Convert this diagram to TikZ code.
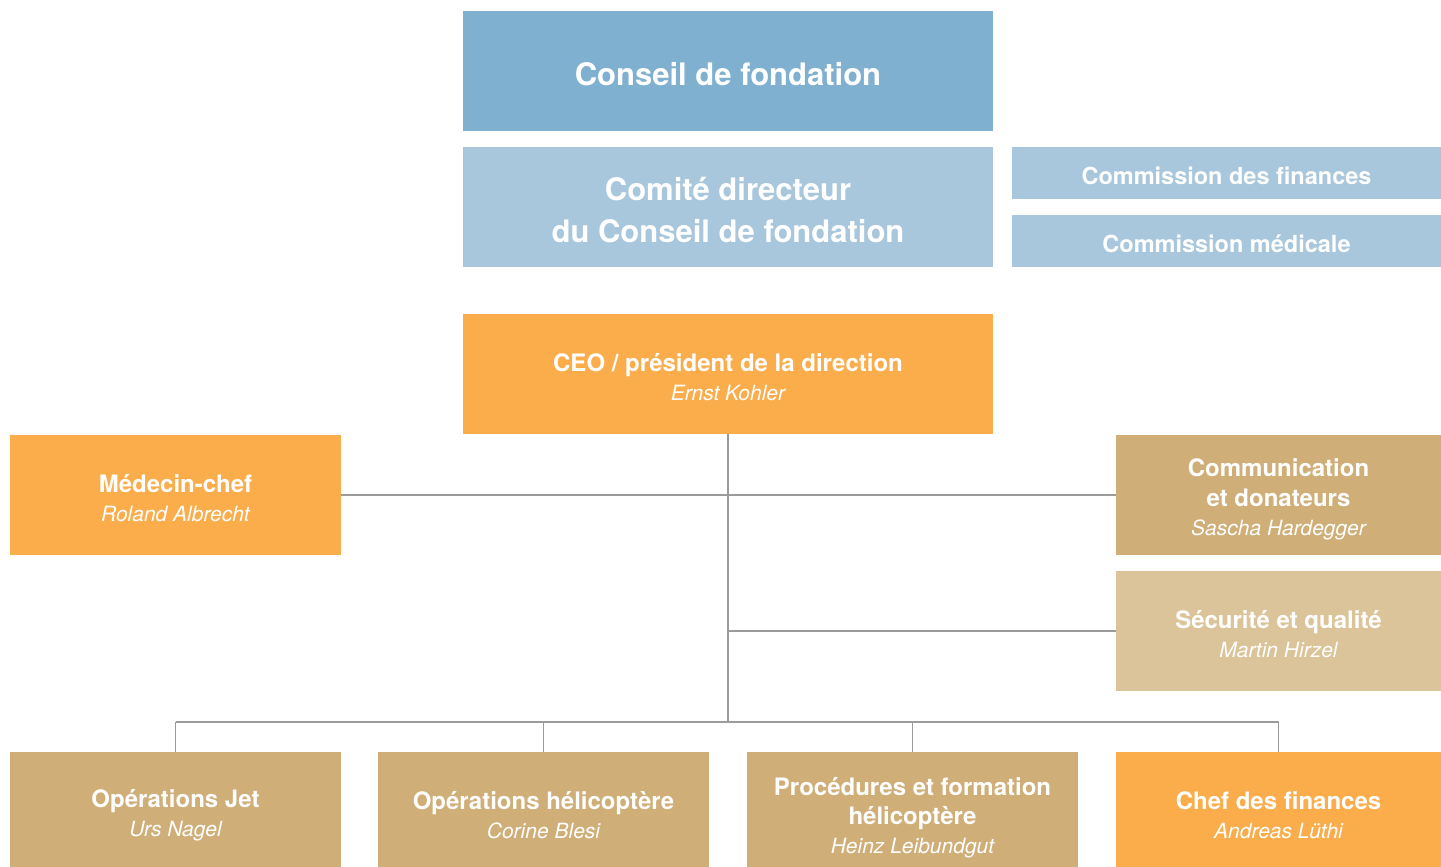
\documentclass[tikz,border=0pt]{standalone}
\usepackage{fontspec}
\setmainfont{TeX Gyre Heros}
\definecolor{bluedark}{HTML}{80B0CF}
\definecolor{bluelight}{HTML}{A8C6DC}
\definecolor{orangebox}{HTML}{FBAD4C}
\definecolor{tanbox}{HTML}{CFAE78}
\definecolor{tanlight}{HTML}{DBC499}
\definecolor{connline}{HTML}{9B9B9B}
\newcommand{\nm}[1]{{\fontsize{21}{28}\selectfont\mdseries\itshape #1}}
\tikzset{
  panel/.style={rectangle, inner sep=0pt, minimum width=#1},
  panel/.default=331pt,
  orgtext/.style={inner sep=0pt, text=white, align=center, yshift=-3pt,
    font=\fontsize{24}{29}\selectfont\bfseries},
  bigtext/.style={orgtext, font=\fontsize{31}{42}\selectfont\bfseries},
  comtext/.style={orgtext, yshift=0pt, font=\fontsize{23.5}{28}\selectfont\bfseries},
  conn/.style={draw=connline, line width=1.5pt}
}
\begin{document}
\begin{tikzpicture}[x=1pt,y=-1pt]
\useasboundingbox (0,0) rectangle (1441,867);
\clip (0,0) rectangle (1441,867);
% top
\node[panel=530pt, fill=bluedark, minimum height=120pt] (conseil) at (728,71) {};
\node[bigtext] (conseil-t) at (conseil.center) {Conseil de fondation};
\node[panel=530pt, fill=bluelight, minimum height=120pt] (comite) at (728,207) {};
\node[bigtext] (comite-t) at (comite.center) {Comité directeur\\du Conseil de fondation};
\node[panel=429pt, fill=bluelight, minimum height=52pt] (cfin) at (1226.5,173) {};
\node[comtext] (cfin-t) at (cfin.center) {Commission des finances};
\node[panel=429pt, fill=bluelight, minimum height=52pt] (cmed) at (1226.5,241) {};
\node[comtext] (cmed-t) at (cmed.center) {Commission médicale};
% ceo
\node[panel=530pt, fill=orangebox, minimum height=120pt] (ceo) at (728,374) {};
\node[orgtext] (ceo-t) at (ceo.center) {CEO / président de la direction\\\nm{Ernst Kohler}};
% middle
\node[panel, fill=orangebox, minimum height=120pt] (med) at (175.5,495) {};
\node[orgtext] (med-t) at (med.center) {Médecin-chef\\\nm{Roland Albrecht}};
\node[panel=325pt, fill=tanbox, minimum height=120pt] (comm) at (1278.5,495) {};
\node[orgtext, yshift=-1pt] (comm-t) at (comm.center) {Communication\\[1pt]et donateurs\\\nm{Sascha Hardegger}};
\node[panel=325pt, fill=tanlight, minimum height=120pt] (sec) at (1278.5,631) {};
\node[orgtext] (sec-t) at (sec.center) {Sécurité et qualité\\\nm{Martin Hirzel}};
% bottom
\node[panel, fill=tanbox, minimum height=120pt] (jet) at (175.5,812) {};
\node[orgtext] (jet-t) at (jet.center) {Opérations Jet\\\nm{Urs Nagel}};
\node[panel, fill=tanbox, minimum height=120pt] (heli) at (543.5,812) {};
\node[orgtext] (heli-t) at (heli.center) {Opérations hélicoptère\\\nm{Corine Blesi}};
\node[panel, fill=tanbox, minimum height=120pt] (proc) at (912.5,812) {};
\node[orgtext, yshift=-3pt] (proc-t) at (proc.center) {Procédures et formation\\hélicoptère\\\nm{Heinz Leibundgut}};
\node[panel=325pt, fill=orangebox, minimum height=120pt] (fin) at (1278.5,812) {};
\node[orgtext] (fin-t) at (fin.center) {Chef des finances\\\nm{Andreas Lüthi}};
% connectors
\coordinate (bus) at (728,722);
\coordinate (jsec) at (728,631);
\draw[conn] (ceo.south) -- (bus);
\draw[conn] (med.east) -- (comm.west);
\draw[conn] (jsec) -- (sec.west);
\draw[conn] (jet.north |- bus) -- (fin.north |- bus);
\draw[conn] (jet.north) -- (jet.north |- bus);
\draw[conn] (heli.north) -- (heli.north |- bus);
\draw[conn] (proc.north) -- (proc.north |- bus);
\draw[conn] (fin.north) -- (fin.north |- bus);
\end{tikzpicture}
\end{document}
